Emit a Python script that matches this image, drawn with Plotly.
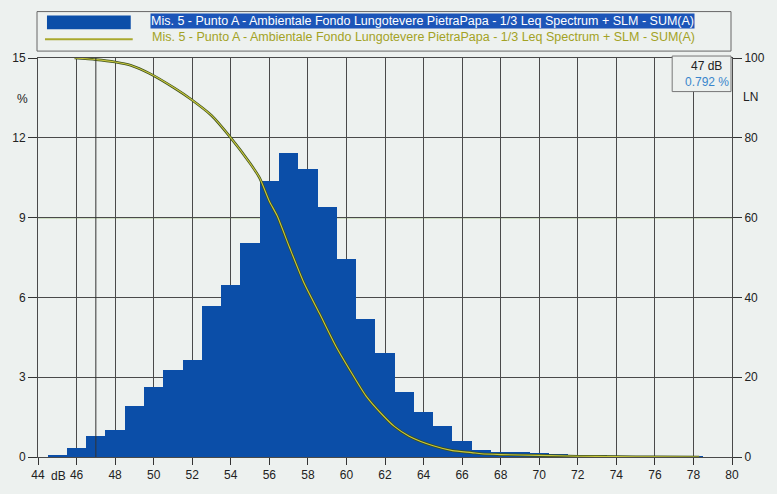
import plotly.graph_objects as go

# ---- data ----
levels_db = list(range(45, 79))
percent = [0.05, 0.32, 0.792, 1.00, 1.92, 2.64, 3.28, 3.63, 5.68, 6.45,
           8.06, 10.39, 11.44, 10.81, 9.38, 7.44, 5.17, 3.91, 2.46, 1.71,
           1.16, 0.61, 0.26, 0.20, 0.18, 0.15, 0.11, 0.04, 0.04, 0.02,
           0.02, 0.02, 0.01, 0.02]

ln_db = [45.9, 47.0, 48.0, 48.8, 49.8, 51.1, 51.9, 53.0, 53.9, 55.0, 55.5,
         56.0, 56.4, 57.05, 57.8, 58.6, 59.46, 60.15, 61.0, 61.9, 62.5,
         63.25, 64.5, 65.5, 66.5, 67.0, 68.0, 70.0, 72.0, 74.0, 76.0, 78.3]
ln_val = [100, 99.6, 99.0, 98.2, 96.1, 92.4, 89.8, 85.6, 80.6, 73.6, 69.9,
          64.1, 60.5, 52.5, 43.6, 36.0, 27.7, 22.0, 15.4, 10.4, 7.6,
          5.2, 2.8, 1.6, 1.1, 0.8, 0.6, 0.4, 0.2, 0.1, 0.05, 0.0]

x_ticks = list(range(44, 81, 2))
y_ticks = [0, 3, 6, 9, 12, 15]
y2_ticks = [0, 20, 40, 60, 80, 100]
series_name = "Mis. 5 - Punto A - Ambientale Fondo Lungotevere PietraPapa - 1/3 Leq Spectrum + SLM - SUM(A)"
cursor_db = 47
cursor_pct = 0.792
ln_ref = 60

# ---- layout geometry ----
W, H = 777, 494
ML, MR, MT, MB = 38, 43, 58, 32
PW, PH = W - ML - MR, H - MT - MB
BG = "#edf1ef"
BLUE = "#0b4ea8"
GRID = "#4a4a4a"
FONT = "Liberation Sans, Arial, sans-serif"


def px(x):
    return (x - ML) / PW


def py(y):
    return (H - MB - y) / PH


fig = go.Figure()
fig.add_trace(go.Bar(x=levels_db, y=percent, width=1.0, marker=dict(color=BLUE, line=dict(width=0)),
                     name=series_name, showlegend=False))
fig.add_trace(go.Scatter(x=ln_db, y=ln_val, yaxis="y2", mode="lines",
                         line=dict(color="#3c4f1c", width=2.6, shape="spline", smoothing=0.6),
                         showlegend=False))
fig.add_trace(go.Scatter(x=ln_db, y=ln_val, yaxis="y2", mode="lines",
                         line=dict(color="#c9c83e", width=1.1, shape="spline", smoothing=0.6),
                         showlegend=False))

shapes = [
    # LN reference line
    dict(type="line", xref="x", yref="y2", x0=44, x1=80, y0=ln_ref, y1=ln_ref,
         line=dict(color="#72a23a", width=1.2), layer="below"),
    # cursor line
    dict(type="line", xref="x", yref="y", x0=cursor_db, x1=cursor_db, y0=0, y1=15,
         line=dict(color="#333333", width=1), layer="above"),
    # legend box
    dict(type="rect", xref="paper", yref="paper", x0=px(37), x1=px(733), y0=py(51), y1=py(11),
         line=dict(color="#666666", width=1), fillcolor=BG),
    dict(type="rect", xref="paper", yref="paper", x0=px(47), x1=px(131), y0=py(29), y1=py(15),
         line=dict(width=0), fillcolor=BLUE),
    dict(type="line", xref="paper", yref="paper", x0=px(45), x1=px(133), y0=py(39), y1=py(39),
         line=dict(color="#a9a82e", width=2)),
    # cursor readout box
    dict(type="rect", xref="paper", yref="paper", x0=px(674), x1=px(733), y0=py(92), y1=py(56),
         line=dict(color="#777777", width=1), fillcolor=BG, layer="above"),
]

annotations = [
    dict(xref="paper", yref="paper", x=px(150), y=py(21), text=series_name, showarrow=False,
         xanchor="left", yanchor="middle", font=dict(family=FONT, size=12.5, color="#ffffff"),
         bgcolor="#1c55b8", borderpad=0),
    dict(xref="paper", yref="paper", x=px(150), y=py(37), text=series_name, showarrow=False,
         xanchor="left", yanchor="middle", font=dict(family=FONT, size=12.5, color="#a3a224")),
    dict(xref="paper", yref="paper", x=px(726), y=py(66), text=f"{cursor_db} dB", showarrow=False,
         xanchor="right", yanchor="middle", font=dict(family=FONT, size=12, color="#222222")),
    dict(xref="paper", yref="paper", x=px(733), y=py(82), text=f"{cursor_pct} %", showarrow=False,
         xanchor="right", yanchor="middle", font=dict(family=FONT, size=12, color="#3a86cc")),
    dict(xref="paper", yref="paper", x=px(22), y=py(100), text="%", showarrow=False,
         xanchor="center", yanchor="middle", font=dict(family=FONT, size=12, color="#222222")),
    dict(xref="paper", yref="paper", x=px(753), y=py(97), text="LN", showarrow=False,
         xanchor="center", yanchor="middle", font=dict(family=FONT, size=12, color="#222222")),
    dict(xref="x", yref="paper", x=45.05, y=py(481), text="dB", showarrow=False,
         xanchor="center", yanchor="middle", font=dict(family=FONT, size=12, color="#222222")),
]

fig.update_layout(
    width=W, height=H,
    margin=dict(l=ML, r=MR, t=MT, b=MB, pad=0),
    paper_bgcolor=BG, plot_bgcolor=BG,
    font=dict(family=FONT, size=12, color="#222222"),
    bargap=0,
    showlegend=False,
    shapes=shapes,
    annotations=annotations,
    xaxis=dict(range=[44, 80], tickmode="array", tickvals=x_ticks, ticktext=[str(v) for v in x_ticks],
               showgrid=True, gridcolor=GRID, gridwidth=1, zeroline=False,
               ticks="outside", ticklen=7, tickcolor="#333333",
               showline=True, mirror=True, linecolor=GRID, linewidth=1),
    yaxis=dict(range=[0, 15], tickmode="array", tickvals=y_ticks, showgrid=True,
               gridcolor=GRID, gridwidth=1, zeroline=False,
               ticks="outside", ticklen=9, tickcolor="#333333",
               showline=True, mirror=True, linecolor=GRID, linewidth=1),
    yaxis2=dict(range=[0, 100], overlaying="y", side="right", tickmode="array", tickvals=y2_ticks,
                showgrid=False, zeroline=False, ticks="outside", ticklen=9, tickcolor="#333333",
                showline=False),
)

fig.write_html("out.html")
